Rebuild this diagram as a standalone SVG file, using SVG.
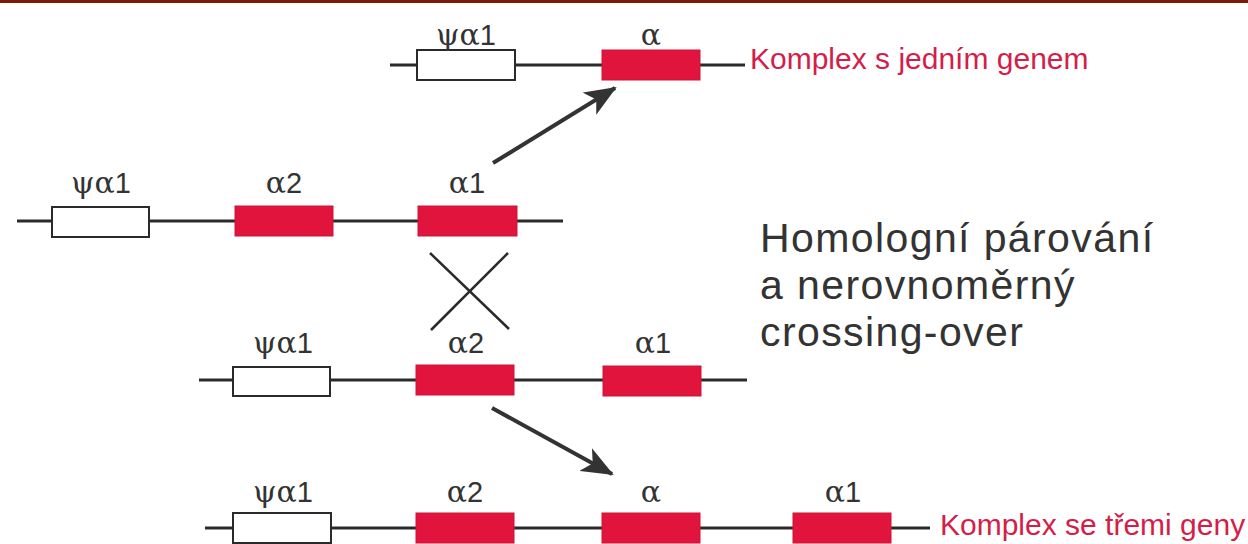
<svg xmlns="http://www.w3.org/2000/svg" width="1248" height="544" viewBox="0 0 1248 544">
<defs>
<style>
.chr{stroke:#2a2a2a;stroke-width:3;fill:none}
.ps{fill:#fff;stroke:#2a2a2a;stroke-width:2}
.g{fill:#e0143c;stroke:#d01238;stroke-width:1}
.lab{font-family:"DejaVu Serif","Liberation Serif",serif;font-size:30px;fill:#333;text-anchor:middle}
.num{font-family:"Liberation Sans",sans-serif;font-size:29px}
.red{font-family:"Liberation Sans",sans-serif;font-size:30px;fill:#d41e4a}
.big{font-family:"Liberation Sans",sans-serif;font-size:41px;letter-spacing:1.4px;fill:#333}
.arr{stroke:#333;stroke-width:4;fill:none}
</style>
<marker id="ah2" viewBox="0 0 32 26" refX="30" refY="13" markerWidth="32" markerHeight="26" orient="auto" markerUnits="userSpaceOnUse">
<path d="M0,0 L32,13 L0,26 L8,13 Z" fill="#333"/>
</marker>
</defs>
<rect x="0" y="0" width="1248" height="544" fill="#fff"/>
<rect x="0" y="0" width="1248" height="3" fill="#7a1a0a"/>

<g id="row1">
<line class="chr" x1="390" y1="65" x2="745" y2="65"/>
<rect id="r1-psi" class="ps" x="417" y="50" width="98" height="30"/>
<rect id="r1-a" class="g" x="602" y="50" width="98" height="30"/>
<text class="lab" x="466" y="45">ψα<tspan class="num">1</tspan></text>
<text class="lab" x="651" y="45">α</text>
<text class="red" x="750" y="69">Komplex s jedním genem</text>
</g>

<g id="row2">
<line class="chr" x1="17" y1="221" x2="563" y2="221"/>
<rect class="ps" x="52" y="207" width="97" height="30"/>
<rect class="g" x="235" y="206" width="98" height="30"/>
<rect class="g" x="418" y="206" width="99" height="30"/>
<text class="lab" x="101" y="193">ψα<tspan class="num">1</tspan></text>
<text class="lab" x="284" y="193">α<tspan class="num">2</tspan></text>
<text class="lab" x="467" y="193">α<tspan class="num">1</tspan></text>
</g>

<g id="row3">
<line class="chr" x1="199" y1="380" x2="747" y2="380"/>
<rect class="ps" x="233" y="367" width="97" height="29"/>
<rect class="g" x="416" y="365" width="98" height="30"/>
<rect class="g" x="603" y="366" width="98" height="30"/>
<text class="lab" x="283" y="353">ψα<tspan class="num">1</tspan></text>
<text class="lab" x="466" y="353">α<tspan class="num">2</tspan></text>
<text class="lab" x="653" y="353">α<tspan class="num">1</tspan></text>
</g>

<g id="row4">
<line class="chr" x1="205" y1="528" x2="930" y2="528"/>
<rect class="ps" x="233" y="513" width="98" height="30"/>
<rect class="g" x="416" y="513" width="98" height="30"/>
<rect class="g" x="602" y="513" width="98" height="30"/>
<rect class="g" x="793" y="513" width="98" height="30"/>
<text class="lab" x="283" y="502">ψα<tspan class="num">1</tspan></text>
<text class="lab" x="465" y="502">α<tspan class="num">2</tspan></text>
<text class="lab" x="651" y="502">α</text>
<text class="lab" x="843" y="502">α<tspan class="num">1</tspan></text>
<text class="red" x="940" y="535">Komplex se třemi geny</text>
</g>

<g id="title">
<text class="big" x="760" y="252">Homologní párování</text>
<text class="big" x="760" y="299">a nerovnoměrný</text>
<text class="big" x="760" y="346">crossing-over</text>
</g>

<g id="connectors">
<line class="arr" x1="493" y1="163" x2="615" y2="88" marker-end="url(#ah2)"/>
<line class="arr" x1="492" y1="408" x2="612" y2="474" marker-end="url(#ah2)"/>
<line stroke="#2a2a2a" stroke-width="2.5" x1="430" y1="253" x2="509" y2="329"/>
<line stroke="#2a2a2a" stroke-width="2.5" x1="508" y1="253" x2="431" y2="330"/>
</g>
</svg>
